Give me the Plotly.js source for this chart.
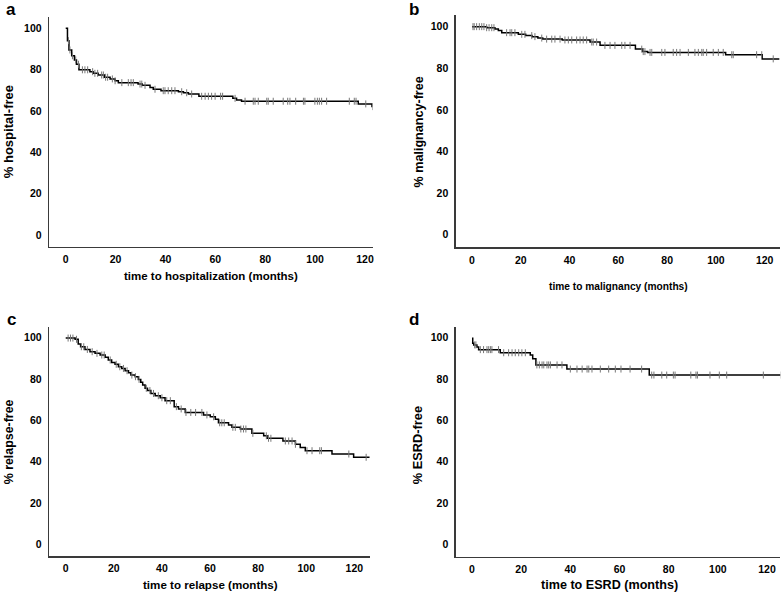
<!DOCTYPE html>
<html>
<head>
<meta charset="utf-8">
<script src="https://cdn.plot.ly/plotly-3.0.1.min.js"></script>
<style>html,body{margin:0;padding:0;background:#fff;}#chart{width:784px;height:592px;}</style>
</head>
<body>
<div id="chart"></div>
<script>
// Panel a: hospitalization
const aTimes = [0, 0.7, 1.3, 2.4, 3.5, 4.3, 5.3, 9.7, 11, 13, 15.5, 17.8, 19.8, 21.1, 29, 30.7, 33.8, 35.1, 38.2, 45.2, 47.2, 49.2, 53.4, 67, 68.5, 70.5, 117.3, 122.8, 123];
const aSurv  = [100, 94, 89.5, 86.7, 84.7, 82.6, 79.9, 79, 78.2, 77.4, 76.3, 75.5, 74.6, 73.7, 73, 72.4, 71.3, 70.5, 69.8, 69.3, 68.8, 68.2, 67.1, 66.1, 65.3, 64.7, 63.4, 62.1, 62.1];
const aCens  = [1.1, 1.7, 2.7, 4, 5.1, 6.7, 7.7, 8.8, 10.8, 11.7, 12.8, 14.4, 15.1, 16, 16.8, 18.7, 19.8, 22.5, 25.1, 26.2, 27.1, 29.8, 30.5, 31.8, 35.8, 39.1, 39.8, 41.1, 42.5, 43.8, 46.5, 48.5, 50.5, 54.5, 55.9, 57.2, 58.5, 59.9, 62.1, 62.9, 67.9, 71.9, 75.2, 75.9, 77.2, 80.6, 81.2, 83.2, 87.2, 89, 89.9, 92.2, 95.3, 95.9, 99.9, 100.9, 101.7, 102.6, 104.6, 113.7, 115.7, 116.4, 120.3, 123];

// Panel b: malignancy
const bTimes = [0, 6, 9.4, 10.8, 12.2, 19, 22, 24.6, 27, 29, 37, 48.4, 52.5, 67, 70, 72, 104, 119, 126];
const bSurv  = [100, 99.5, 98.9, 98.1, 97.1, 96.3, 95.7, 95.2, 94.5, 94, 93.6, 92.6, 91, 89.2, 88, 87.6, 86.5, 84.5, 84.5];
const bCens  = [0.4, 0.9, 1.9, 3, 4, 4.9, 6, 7, 8.1, 9, 14.2, 15.6, 16.3, 17.6, 20.4, 21.7, 24.5, 25.8, 28.6, 30.6, 32.7, 34, 36.1, 38.1, 39.5, 40.9, 42.9, 44.3, 45.6, 47, 49.1, 49.7, 51.1, 54.5, 56.6, 58.6, 61.4, 62.7, 64.8, 69.6, 70.2, 70.9, 73, 73.7, 77.8, 79.1, 82.5, 83.9, 85.3, 88.7, 91.4, 92.8, 94.2, 94.8, 96.2, 98.9, 101, 103, 106.5, 107.1, 116.7, 118.8, 123.5];

// Panel c: relapse
const cTimes = [0, 3.9, 5.2, 6.2, 8, 10.1, 12.2, 14.3, 16.4, 17.7, 19.1, 20.5, 21.9, 23.3, 24.7, 26.1, 27.1, 28.9, 30.2, 31.2, 32, 33, 34, 35.4, 37.2, 39.3, 41.3, 45.1, 46.9, 49.7, 57.3, 60.1, 62.2, 63.5, 67.7, 69.1, 72.6, 77.4, 82.3, 83.7, 90.3, 95.5, 97.5, 99.6, 110.7, 119.7, 126.3];
const cSurv  = [99.8, 99.2, 96.9, 95.6, 94.3, 93.2, 92.4, 91.6, 90.5, 89.2, 88, 87.1, 85.9, 85.1, 84, 83, 81.9, 81.1, 79.8, 78.4, 77.1, 75.5, 74.4, 73, 71.9, 70.9, 69.5, 66.6, 65.5, 63.8, 62.6, 61.7, 60.5, 58.8, 57.7, 56.6, 55.8, 53.7, 52.5, 51.3, 50, 48.4, 46.9, 45.3, 43.7, 42.1, 42.1];
const cCens  = [1, 2, 3, 4.5, 6.5, 7.5, 9, 11, 13, 15, 16, 18.5, 21, 22.5, 24, 25.5, 27.5, 29, 30.5, 33.5, 35, 36.5, 38.5, 40, 42, 43.5, 46, 48, 50, 52, 54, 56.6, 58.7, 61.5, 64, 64.9, 65.9, 69.5, 70.5, 72.8, 73.9, 74.9, 77.8, 83.4, 84.3, 85.3, 91.3, 92.7, 94.1, 95.5, 100.3, 102.4, 105.6, 106.3, 117.7, 124.9];

// Panel d: ESRD
const dTimes = [0, 0.3, 0.7, 2, 2.7, 11.5, 23.7, 24.7, 26, 38.6, 72.1, 125.6];
const dSurv  = [99.7, 97.3, 96.5, 95.5, 94.2, 92.7, 91.6, 89.8, 86.8, 84.8, 81.9, 81.9];
const dCens  = [1.1, 1.6, 3.4, 4.7, 6.1, 6.8, 7.5, 8.1, 10.8, 12.9, 14.9, 16.3, 17.6, 19, 20.3, 21.7, 26.4, 27.4, 28.5, 29.2, 30.5, 31.2, 31.9, 34.6, 36.6, 40, 42.7, 44.8, 46.8, 47.5, 48.8, 52.2, 55.6, 58.3, 60.6, 64.3, 69, 73.1, 74, 77.2, 79.2, 81.9, 82.6, 89, 91.1, 91.7, 96.8, 100.6, 103.6, 118.5, 125.6];

const panelLetters = ['a', 'b', 'c', 'd'];
const xTitles = ['time to hospitalization (months)', 'time to malignancy (months)', 'time to relapse (months)', 'time to ESRD (months)'];
const yTitles = ['% hospital-free', '% malignancy-free', '% relapse-free', '% ESRD-free'];
const xTickVals = [0, 20, 40, 60, 80, 100, 120];
const yTickVals = [0, 20, 40, 60, 80, 100];

function survAt(times, surv, t) {
  let v = surv[0];
  for (let i = 0; i < times.length; i++) { if (times[i] <= t) v = surv[i]; else break; }
  return v;
}

const W = 784, H = 592;
const panels = [
  {times: aTimes, surv: aSurv, cens: aCens, px: [49.3, 372.5], py: [17.3, 246.7], xr: [-6.58, 123.0], yr: [-5.66, 105.3]},
  {times: bTimes, surv: bSurv, cens: bCens, px: [456, 780.3], py: [15, 247.3], xr: [-6.56, 126.4], yr: [-6.1, 105.6]},
  {times: cTimes, surv: cSurv, cens: cCens, px: [49.3, 370], py: [326.7, 556], xr: [-6.82, 126.5], yr: [-5.66, 105.3]},
  {times: dTimes, surv: dSurv, cens: dCens, px: [456, 780.3], py: [326.7, 556.7], xr: [-6.5, 125.4], yr: [-6.0, 105.3]}
];

const tickFont = {family: 'Liberation Sans, Arial, sans-serif', size: 10.5, color: '#000', weight: 'bold'};
const traces = [];
const layout = {
  width: W, height: H, margin: {l: 0, r: 0, t: 0, b: 0},
  paper_bgcolor: '#fff', plot_bgcolor: '#fff', showlegend: false,
  annotations: []
};

panels.forEach((p, i) => {
  const sx = i === 0 ? '' : String(i + 1);
  traces.push({
    type: 'scatter', mode: 'lines', x: p.times, y: p.surv,
    xaxis: 'x' + sx, yaxis: 'y' + sx,
    line: {shape: 'hv', color: '#000', width: 1.5}, hoverinfo: 'skip'
  });
  traces.push({
    type: 'scatter', mode: 'markers', x: p.cens, y: p.cens.map(t => survAt(p.times, p.surv, t)),
    xaxis: 'x' + sx, yaxis: 'y' + sx,
    marker: {symbol: 'line-ns-open', size: 5, color: '#777', line: {width: 1, color: '#777'}}, hoverinfo: 'skip'
  });
  layout['xaxis' + sx] = {
    domain: [p.px[0] / W, p.px[1] / W], range: p.xr, anchor: 'y' + sx,
    showline: true, linecolor: '#3a3a3a', linewidth: 1.6, showgrid: false, zeroline: false,
    tickmode: 'array', tickvals: xTickVals, ticks: '', ticklabelstandoff: 2, tickfont: tickFont, fixedrange: true
  };
  layout['yaxis' + sx] = {
    domain: [1 - p.py[1] / H, 1 - p.py[0] / H], range: p.yr, anchor: 'x' + sx,
    showline: true, linecolor: '#3a3a3a', linewidth: 1.6, showgrid: false, zeroline: false,
    tickmode: 'array', tickvals: yTickVals, ticks: '', ticklabelstandoff: 4, tickfont: tickFont, fixedrange: true
  };
});

const letterPos = [[11, 9], [414, 9], [11, 319], [414, 319]];
const xTitlePos = [[210.8, 276, 11.5], [618.3, 286, 10.2], [210.5, 584.5, 11.6], [609.5, 584.5, 12.6]];
const yTitlePos = [[8.5, 131.7, 13], [418, 132.5, 12.6], [8.5, 441.8, 12.4], [417, 445.2, 12.8]];

panelLetters.forEach((L, i) => {
  layout.annotations.push({
    text: L, xref: 'paper', yref: 'paper', x: letterPos[i][0] / W, y: 1 - letterPos[i][1] / H,
    xanchor: 'center', yanchor: 'middle', showarrow: false,
    font: {family: 'Liberation Sans, Arial, sans-serif', size: 17, color: '#000', weight: 'bold'}
  });
  layout.annotations.push({
    text: xTitles[i], xref: 'paper', yref: 'paper', x: xTitlePos[i][0] / W, y: 1 - xTitlePos[i][1] / H,
    xanchor: 'center', yanchor: 'middle', showarrow: false,
    font: {family: 'Liberation Sans, Arial, sans-serif', size: xTitlePos[i][2], color: '#000', weight: 'bold'}
  });
  layout.annotations.push({
    text: yTitles[i], xref: 'paper', yref: 'paper', x: yTitlePos[i][0] / W, y: 1 - yTitlePos[i][1] / H,
    xanchor: 'center', yanchor: 'middle', showarrow: false, textangle: -90,
    font: {family: 'Liberation Sans, Arial, sans-serif', size: yTitlePos[i][2], color: '#000', weight: 'bold'}
  });
});

Plotly.newPlot('chart', traces, layout, {staticPlot: true, displayModeBar: false});
</script>
</body>
</html>
